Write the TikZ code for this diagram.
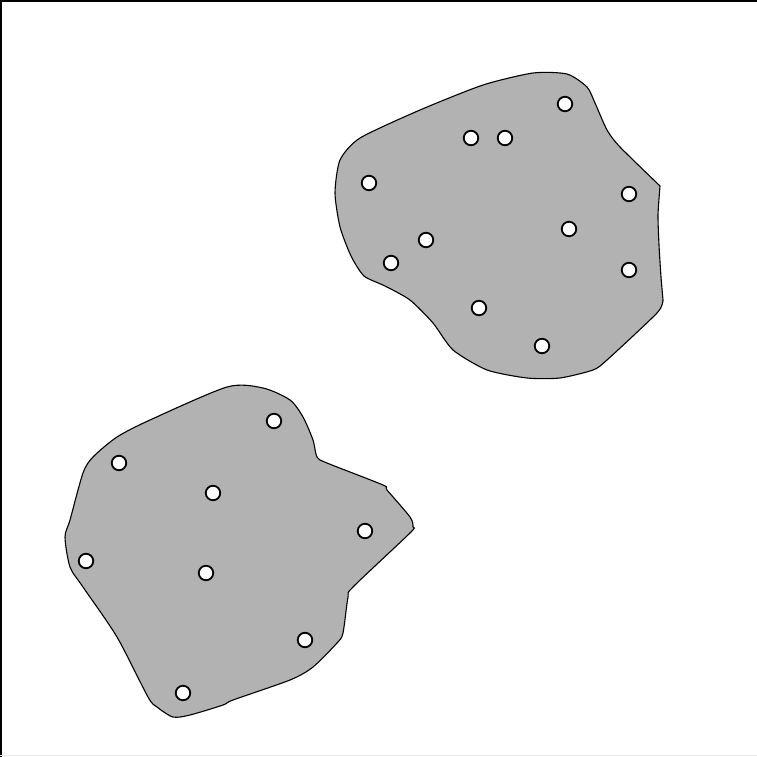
\documentclass[tikz,border=0pt]{standalone}
\begin{document}
\begin{tikzpicture}[x=1pt,y=-1pt,
  blob/.style={draw=black,fill=black!30,line width=1.1pt,line join=round},
  site/.style={circle,draw=black,fill=white,line width=1.8pt,minimum size=14.5pt,inner sep=0pt}]
\useasboundingbox (0,0) rectangle (757,757);
\fill[white] (0,0) rectangle (757,757);
% frame
\draw[line width=2pt] (1,757) -- (1,1) -- (757,1);
\draw[black!8,line width=1pt] (0,755.5) -- (757,755.5);
% upper blob
\draw[blob] plot[smooth,tension=0.4] coordinates {
 (660,186) (658,215) (659,245) (661,277) (663,300)}
 -- plot[smooth,tension=0.4] coordinates {(663,300) (657,313) (607,360)
 (593,370) (560,378) (527,378) (487,370) (453,350) (433,323) (410,300)
 (385,286) (364,276) (351,256) (340,227) (335,193) (340,160)
 (360,138) (420,110) (483,85) (533,73) (567,74) (587,87) (595,103) (607,130)
 (620,147) (660,186)} -- cycle;
% lower blob
\draw[blob] plot[smooth cycle,tension=0.45] coordinates {
 (227,387) (263,388) (290,400) (303,417) (313,440) (317,457) (327,463)
 (383,485) (387,490) (410,517) (413,527) (410,533) (353,587) (348,597)
 (343,633) (337,643) (313,667) (290,680) (233,700) (223,705) (190,715)
 (173,717) (157,707) (148,697) (117,637) (83,587) (70,567) (65,537)
 (70,520) (83,473) (93,457) (117,437) (150,420)};
% sites upper
\foreach \p [count=\i] in {(565,104),(471,138),(505,138),(369,183),(629,194),(569,229),(426,240),(391,263),(629,270),(479,308),(542,346)}
  \node[site] (u\i) at \p {};
% sites lower
\foreach \p [count=\i] in {(274,421),(119,463),(213,493),(365,531),(86,561),(206,573),(305,640),(183,693)}
  \node[site] (l\i) at \p {};
\end{tikzpicture}
\end{document}
